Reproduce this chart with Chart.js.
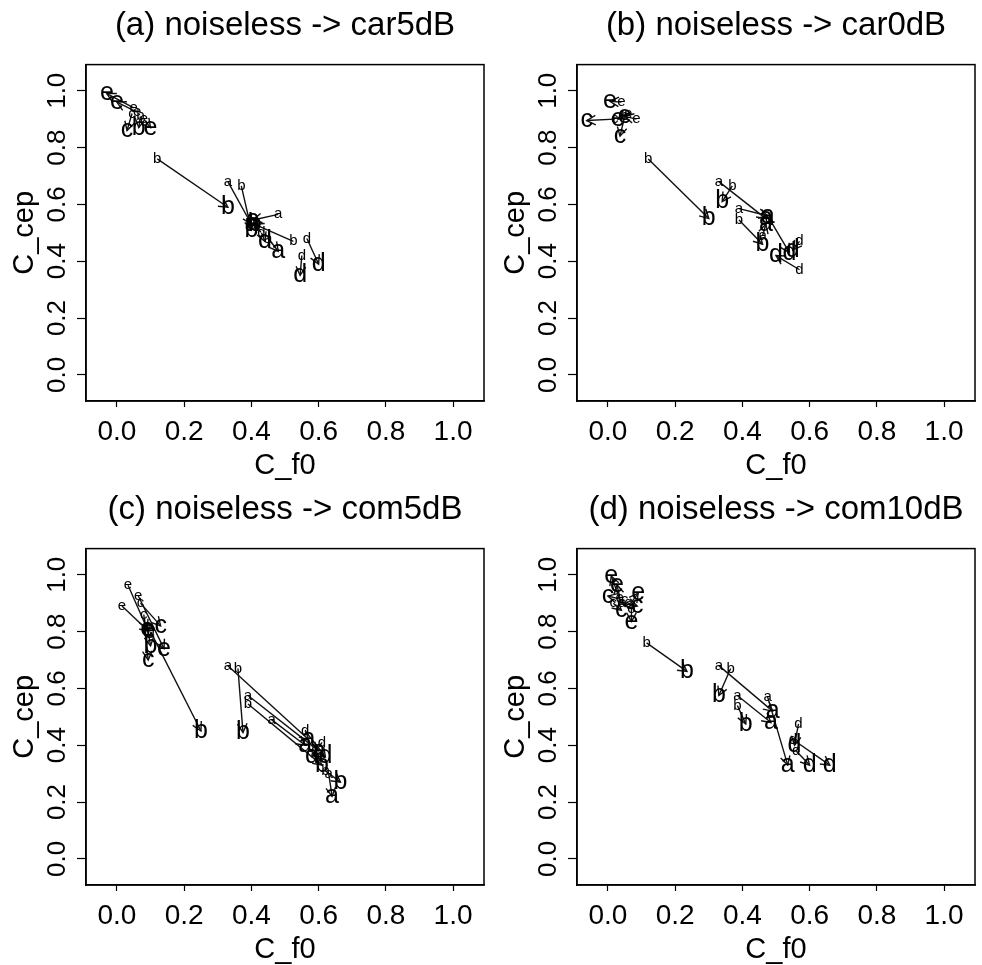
<!DOCTYPE html>
<html>
<head>
<meta charset="utf-8">
<script src="https://cdn.jsdelivr.net/npm/chart.js@4.4.1/dist/chart.umd.min.js"></script>
<style>
  body { margin: 0; background: #fff; width: 982px; height: 965px; overflow: hidden; position: relative; }
  .panel { position: absolute; width: 491px; height: 484px; }
</style>
</head>
<body>
<div class="panel" style="left:0;top:0"><canvas id="chartA" width="491" height="484"></canvas></div>
<div class="panel" style="left:491px;top:0"><canvas id="chartB" width="491" height="484"></canvas></div>
<div class="panel" style="left:0;top:484px"><canvas id="chartC" width="491" height="484"></canvas></div>
<div class="panel" style="left:491px;top:484px"><canvas id="chartD" width="491" height="484"></canvas></div>
<script>
// correlation of f0 vs cepstrum, noiseless (small letter) -> noisy (big letter)

const tickValues = [0.0, 0.2, 0.4, 0.6, 0.8, 1.0];
const axisMin = -0.092;
const axisMax = 1.092;

// (a) noiseless -> car5dB
const aTitle = '(a) noiseless -> car5dB';
const aLetters = ['e', 'e', 'c', 'b', 'e', 'b', 'a', 'b', 'a', 'b', 'd', 'a', 'd', 'd'];
const aFromX = [0.05, 0.06, 0.045, 0.07, 0.08, 0.12, 0.33, 0.37, 0.48, 0.525, 0.43, 0.45, 0.565, 0.55];
const aFromY = [0.94, 0.925, 0.92, 0.91, 0.90, 0.76, 0.68, 0.665, 0.565, 0.47, 0.50, 0.48, 0.48, 0.42];
const aToX = [-0.03, 0.00, 0.03, 0.065, 0.10, 0.33, 0.40, 0.40, 0.405, 0.41, 0.44, 0.48, 0.60, 0.545];
const aToY = [0.99, 0.96, 0.86, 0.87, 0.87, 0.59, 0.53, 0.51, 0.545, 0.53, 0.47, 0.435, 0.39, 0.35];

// (b) noiseless -> car0dB
const bTitle = '(b) noiseless -> car0dB';
const bLetters = ['e', 'c', 'c', 'e', 'e', 'b', 'a', 'b', 'a', 'b', 'a', 'd', 'd', 'd'];
const bFromX = [0.04, 0.02, 0.05, 0.06, 0.085, 0.12, 0.33, 0.37, 0.39, 0.39, 0.46, 0.48, 0.57, 0.57];
const bFromY = [0.96, 0.90, 0.91, 0.92, 0.90, 0.76, 0.68, 0.665, 0.585, 0.545, 0.49, 0.55, 0.47, 0.37];
const bToX = [0.006, -0.063, 0.036, 0.03, 0.05, 0.30, 0.47, 0.34, 0.475, 0.46, 0.47, 0.54, 0.55, 0.50];
const bToY = [0.963, 0.895, 0.84, 0.90, 0.91, 0.55, 0.55, 0.61, 0.56, 0.46, 0.53, 0.43, 0.44, 0.42];

// (c) noiseless -> com5dB
const cTitle = '(c) noiseless -> com5dB';
const cLetters = ['e', 'e', 'e', 'c', 'c', 'b', 'b', 'a', 'b', 'a', 'b', 'a', 'd', 'd', 'a', 'b'];
const cFromX = [0.033, 0.063, 0.015, 0.07, 0.08, 0.09, 0.10, 0.33, 0.36, 0.39, 0.39, 0.46, 0.61, 0.56, 0.63, 0.62];
const cFromY = [0.963, 0.927, 0.89, 0.90, 0.86, 0.82, 0.80, 0.68, 0.67, 0.575, 0.545, 0.49, 0.41, 0.45, 0.30, 0.31];
const cToX = [0.09, 0.14, 0.095, 0.13, 0.093, 0.10, 0.25, 0.57, 0.375, 0.60, 0.61, 0.56, 0.58, 0.62, 0.64, 0.665];
const cToY = [0.81, 0.74, 0.80, 0.82, 0.70, 0.75, 0.45, 0.42, 0.445, 0.38, 0.33, 0.40, 0.36, 0.36, 0.22, 0.27];

// (d) noiseless -> com10dB
const dTitle = '(d) noiseless -> com10dB';
const dLetters = ['e', 'e', 'c', 'e', 'e', 'c', 'c', 'b', 'a', 'b', 'a', 'b', 'a', 'd', 'd', 'd'];
const dFromX = [0.04, 0.035, 0.05, 0.065, 0.07, 0.06, 0.016, 0.115, 0.33, 0.365, 0.385, 0.385, 0.475, 0.567, 0.55, 0.56];
const dFromY = [0.90, 0.92, 0.91, 0.895, 0.88, 0.90, 0.90, 0.76, 0.68, 0.67, 0.575, 0.54, 0.57, 0.475, 0.42, 0.38];
const dToX = [0.01, 0.027, 0.0, 0.09, 0.07, 0.087, 0.04, 0.235, 0.49, 0.33, 0.485, 0.41, 0.535, 0.555, 0.66, 0.60];
const dToY = [0.995, 0.965, 0.925, 0.935, 0.835, 0.89, 0.875, 0.66, 0.52, 0.575, 0.48, 0.475, 0.33, 0.40, 0.33, 0.33];

const toPoints = (xs, ys) => xs.map((x, i) => ({ x: x, y: ys[i] }));

// arrows + letters, positions come from the chart elements
const letterPlugin = {
    id: 'letterArrows',
    afterDatasetsDraw(chart) {
        const ctx = chart.ctx;
        const from = chart.getDatasetMeta(0).data;
        const to = chart.getDatasetMeta(1).data;
        const letters = chart.data.datasets[0].letters;
        ctx.save();
        ctx.strokeStyle = '#111';
        ctx.lineWidth = 1.4;
        from.forEach((p, i) => {
            const q = to[i];
            const dx = q.x - p.x, dy = q.y - p.y;
            const len = Math.hypot(dx, dy);
            ctx.beginPath();
            ctx.moveTo(p.x, p.y);
            ctx.lineTo(q.x, q.y);
            ctx.stroke();
            if (len > 4) {
                const ang = Math.atan2(dy, dx);
                const h = 10;
                ctx.beginPath();
                ctx.moveTo(q.x - h * Math.cos(ang - 0.5), q.y - h * Math.sin(ang - 0.5));
                ctx.lineTo(q.x, q.y);
                ctx.lineTo(q.x - h * Math.cos(ang + 0.5), q.y - h * Math.sin(ang + 0.5));
                ctx.stroke();
            }
        });
        ctx.fillStyle = '#000';
        ctx.textAlign = 'center';
        ctx.textBaseline = 'middle';
        ctx.font = '15px "Liberation Sans", Arial, sans-serif';
        from.forEach((p, i) => ctx.fillText(letters[i], p.x, p.y));
        ctx.font = '25px "Liberation Sans", Arial, sans-serif';
        to.forEach((q, i) => ctx.fillText(letters[i], q.x, q.y));
        ctx.restore();
    },
    afterDraw(chart) {
        const ctx = chart.ctx;
        const area = chart.chartArea;
        const ys = chart.scales.y;
        ctx.save();
        ctx.strokeStyle = '#000';
        ctx.lineWidth = 1.5;
        ctx.strokeRect(area.left, area.top, area.right - area.left, area.bottom - area.top);
        // rotated y tick labels, like R's default
        ctx.fillStyle = '#000';
        ctx.font = '26px "Liberation Sans", Arial, sans-serif';
        ctx.textAlign = 'center';
        ctx.textBaseline = 'middle';
        ys.ticks.forEach(t => {
            const py = ys.getPixelForValue(t.value);
            ctx.save();
            ctx.translate(area.left - 28, py);
            ctx.rotate(-Math.PI / 2);
            ctx.fillText(t.value.toFixed(1), 0, 0);
            ctx.restore();
        });
        ctx.restore();
    }
};

const makeChart = (id, title, letters, fx, fy, tx, ty) => {
    const ctx = document.getElementById(id);
    const axisFont = { family: '"Liberation Sans", Arial, sans-serif', size: 29 };
    return new Chart(ctx, {
        type: 'scatter',
        data: {
            datasets: [
                { label: 'noiseless', data: toPoints(fx, fy), letters: letters, pointRadius: 0 },
                { label: 'noisy', data: toPoints(tx, ty), pointRadius: 0 }
            ]
        },
        options: {
            responsive: false,
            animation: false,
            events: [],
            layout: { padding: { left: 0, right: 7, top: 0, bottom: 0 } },
            plugins: {
                legend: { display: false },
                tooltip: { enabled: false },
                title: {
                    display: true,
                    text: title,
                    fullSize: false,
                    color: '#000',
                    font: { family: '"Liberation Sans", Arial, sans-serif', size: 33, weight: 'normal' },
                    padding: { top: 6, bottom: 19 }
                }
            },
            scales: {
                x: {
                    type: 'linear',
                    min: axisMin,
                    max: axisMax,
                    afterBuildTicks: s => { s.ticks = tickValues.map(v => ({ value: v })); },
                    afterFit: s => { s.height = 83; },
                    grid: { drawOnChartArea: false, drawTicks: true, tickLength: 6, tickColor: '#000', tickWidth: 1.2 },
                    border: { display: true, color: '#000', width: 1.5 },
                    ticks: {
                        color: '#000',
                        padding: 8,
                        maxRotation: 0,
                        font: { family: '"Liberation Sans", Arial, sans-serif', size: 28 },
                        callback: v => v.toFixed(1)
                    },
                    title: { display: true, text: 'C_f0', color: '#000', font: axisFont, padding: { top: 0, bottom: 1 } }
                },
                y: {
                    type: 'linear',
                    min: axisMin,
                    max: axisMax,
                    afterBuildTicks: s => { s.ticks = tickValues.map(v => ({ value: v })); },
                    afterFit: s => { s.width = 86; },
                    grid: { drawOnChartArea: false, drawTicks: true, tickLength: 9, tickColor: '#000', tickWidth: 1.2 },
                    border: { display: true, color: '#000', width: 1.5 },
                    ticks: { color: 'rgba(0,0,0,0)', font: { size: 26 }, callback: v => v.toFixed(1) },
                    title: { display: true, text: 'C_cep', color: '#000', font: axisFont, padding: { top: 8, bottom: 0 } }
                }
            }
        },
        plugins: [letterPlugin]
    });
};

window.addEventListener('DOMContentLoaded', () => {
    makeChart('chartA', aTitle, aLetters, aFromX, aFromY, aToX, aToY);
    makeChart('chartB', bTitle, bLetters, bFromX, bFromY, bToX, bToY);
    makeChart('chartC', cTitle, cLetters, cFromX, cFromY, cToX, cToY);
    makeChart('chartD', dTitle, dLetters, dFromX, dFromY, dToX, dToY);
});
</script>
</body>
</html>
